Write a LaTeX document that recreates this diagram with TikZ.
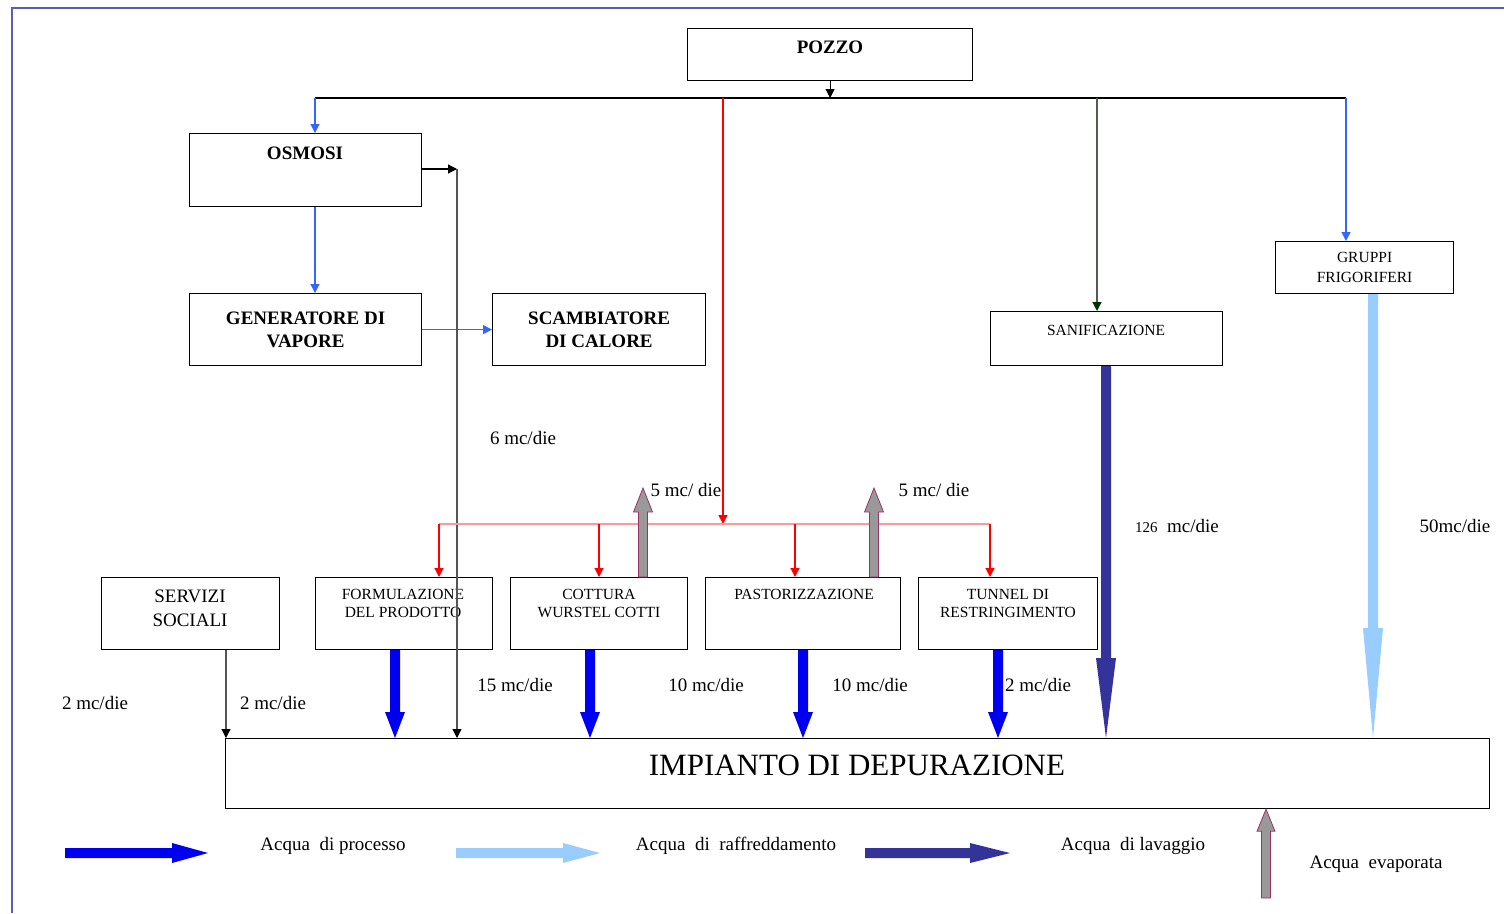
\documentclass[tikz,border=0pt]{standalone}
\usepackage{fontspec}
\setmainfont{Liberation Serif}
\usetikzlibrary{arrows.meta,calc}
\definecolor{framec}{HTML}{5B5BB8}
\definecolor{procblue}{HTML}{0000F0}
\definecolor{coolblue}{HTML}{99CCFF}
\definecolor{washblue}{HTML}{333399}
\definecolor{evapgray}{HTML}{999999}
\definecolor{evapedge}{HTML}{993366}
\definecolor{feedblue}{HTML}{3366FF}
\definecolor{pinkline}{HTML}{FF9999}
\definecolor{redline}{HTML}{FF0000}
\definecolor{sanline}{HTML}{4F5F4F}
\definecolor{sanhead}{HTML}{003300}
\definecolor{greyline}{HTML}{555555}
\newcommand{\fatv}[6]{\path[#1] ($(#2)+(-#6,0)$) -- ($(#3)+(-#6,{-(#4)})$) -- ($(#3)+(-#5,{-(#4)})$) -- (#3) -- ($(#3)+(#5,{-(#4)})$) -- ($(#3)+(#6,{-(#4)})$) -- ($(#2)+(#6,0)$) -- cycle;}
\newcommand{\fath}[6]{\path[#1] ($(#2)+(0,-#6)$) -- ($(#3)+({-(#4)},-#6)$) -- ($(#3)+({-(#4)},-#5)$) -- (#3) -- ($(#3)+({-(#4)},#5)$) -- ($(#3)+({-(#4)},#6)$) -- ($(#2)+(0,#6)$) -- cycle;}
\begin{document}
\begin{tikzpicture}[x=1pt,y=-1pt,
  box/.style={draw, line width=1.2pt, rectangle, inner sep=0pt, anchor=north west},
  bl/.style={font=\bfseries\fontsize{19}{23}\selectfont, align=center, inner sep=0pt},
  sm/.style={font=\fontsize{15.5}{18}\selectfont, align=center, inner sep=0pt},
  lbl/.style={font=\fontsize{19}{23}\selectfont, align=center, inner sep=0pt},
  thinarrow/.style={-{Triangle[width=9pt,length=9pt]}},
  fatproc/.style={fill=procblue},
  fatcool/.style={fill=coolblue},
  fatwash/.style={fill=washblue},
  fatevap/.style={fill=evapgray, draw=evapedge, line width=0.8pt}]
\useasboundingbox (0,0) rectangle (1504,913);
\fill[white] (0,0) rectangle (1504,913);
\draw[framec, line width=2pt] (12,913) -- (12,8) -- (1504,8);

% boxes
\node[box, minimum width=285, minimum height=52] (pozzo) at (687,28) {};
\node[box, minimum width=232, minimum height=73] (osmosi) at (189,133) {};
\node[box, minimum width=232, minimum height=72, bl] (gen) at (189,293) {GENERATORE DI\\VAPORE};
\node[box, minimum width=213, minimum height=72, bl] (scamb) at (492,293) {SCAMBIATORE\\DI CALORE};
\node[box, minimum width=232, minimum height=54] (sanif) at (990,311) {};
\node[box, minimum width=178, minimum height=52, sm, font=\fontsize{15.5}{20}\selectfont] (gruppi) at (1275,241) {GRUPPI\\FRIGORIFERI};
\node[box, minimum width=178, minimum height=72] (serv) at (101,577) {};
\node[box, minimum width=177, minimum height=72] (form) at (315,577) {};
\node[box, minimum width=177, minimum height=72] (cott) at (510,577) {};
\node[box, minimum width=195, minimum height=72] (past) at (705,577) {};
\node[box, minimum width=179, minimum height=72] (tunn) at (918,577) {};
\node[box, minimum width=1264, minimum height=70] (dep) at (225,738) {};

% box texts
\node[bl] (tpozzo) at (830,47) {POZZO};
\node[bl] (tosmosi) at (305,153) {OSMOSI};
\node[sm] (tsanif) at (1106,330) {SANIFICAZIONE};
\node[lbl, font=\fontsize{19}{24}\selectfont] (tserv) at (190,608) {SERVIZI\\SOCIALI};
\node[sm] (tform) at (403,603) {FORMULAZIONE\\DEL PRODOTTO};
\node[sm] (tcott) at (599,603) {COTTURA\\WURSTEL COTTI};
\node[sm] (tpast) at (804,594) {PASTORIZZAZIONE};
\node[sm] (ttunn) at (1008,603) {TUNNEL DI\\RESTRINGIMENTO};
\node[font=\fontsize{31}{36}\selectfont, inner sep=0pt] (tdep) at (857,765) {IMPIANTO DI DEPURAZIONE};

% feed network
\coordinate (bL) at (315,98);
\coordinate (bR) at (1346,98);
\coordinate (bS) at (1097,98);
\coordinate (rtop) at (723,98);
\coordinate (rj) at (723,524);
\coordinate (pL) at (439,524);
\coordinate (pC) at (599,524);
\coordinate (pP) at (795,524);
\coordinate (pR) at (990,524);
\coordinate (vtop) at (457,169);
\coordinate (servx) at (226,0);

\draw[line width=1.2pt] (bL) -- (bR);
\draw[line width=1pt, thinarrow] (pozzo.south) -- (pozzo.south |- bL);
\draw[feedblue, line width=1.2pt, thinarrow] (bL) -- (bL |- osmosi.north);
\draw[feedblue, line width=1.2pt, thinarrow] (bL |- osmosi.south) -- (bL |- gen.north);
\draw[feedblue, line width=1.2pt, thinarrow] (gen.east) -- (scamb.west);
\draw[line width=1.2pt, thinarrow] (osmosi.east |- vtop) -- (vtop);
\draw[greyline, line width=1.2pt, -{Triangle[width=9pt,length=9pt,color=black]}] (vtop) -- (vtop |- dep.north);
\draw[redline, line width=1.4pt, thinarrow] (rtop) -- (rj);
\draw[pinkline, line width=1.3pt] (pL) -- (pR);
\draw[redline, line width=1.2pt, thinarrow] (pL) -- (pL |- form.north);
\draw[redline, line width=1.2pt, thinarrow] (pC) -- (pC |- cott.north);
\draw[redline, line width=1.2pt, thinarrow] (pP) -- (pP |- past.north);
\draw[redline, line width=1.2pt, thinarrow] (pR) -- (pR |- tunn.north);
\draw[sanline, line width=1.2pt, -{Triangle[width=9pt,length=9pt,color=sanhead]}] (bS) -- (bS |- sanif.north);
\draw[feedblue, line width=1.2pt, thinarrow] (bR) -- (bR |- gruppi.north);
\draw[greyline, line width=1.2pt, -{Triangle[width=9pt,length=9pt,color=black]}] (servx |- serv.south) -- (servx |- dep.north);

% fat arrows to depuration
\coordinate (f1s) at (395,0 |- form.south);   \coordinate (f1e) at (395,0 |- dep.north);
\coordinate (f2s) at (590,0 |- cott.south);   \coordinate (f2e) at (590,0 |- dep.north);
\coordinate (f3s) at (803,0 |- past.south);   \coordinate (f3e) at (803,0 |- dep.north);
\coordinate (f4s) at (998,0 |- tunn.south);   \coordinate (f4e) at (998,0 |- dep.north);
\coordinate (f5s) at (1106,0 |- sanif.south); \coordinate (f5e) at (1106,0 |- dep.north);
\coordinate (f6s) at (1373,0 |- gruppi.south); \coordinate (f6e) at (1373,0 |- dep.north);
\fatv{fatproc}{f1s}{f1e}{26}{10}{5}
\fatv{fatproc}{f2s}{f2e}{26}{10}{5}
\fatv{fatproc}{f3s}{f3e}{26}{10}{5}
\fatv{fatproc}{f4s}{f4e}{26}{10}{5}
\fatv{fatwash}{f5s}{f5e}{80}{10}{5}
\fatv{fatcool}{f6s}{f6e}{110}{10}{5}

% evaporation arrows
\coordinate (g1s) at (643,0 |- cott.north); \coordinate (g1e) at (643,488);
\coordinate (g2s) at (874,0 |- past.north); \coordinate (g2e) at (874,488);
\fatv{fatevap}{g1s}{g1e}{-24}{9.5}{4.5}
\fatv{fatevap}{g2s}{g2e}{-24}{9.5}{4.5}

% flow labels
\node[lbl] (l6) at (523,438) {6 mc/die};
\node[lbl] (l5a) at (686,490) {5 mc/ die};
\node[lbl] (l5b) at (934,490) {5 mc/ die};
\node[lbl] (l126) at (1177,526) {{\fontsize{15}{18}\selectfont 126}\ \ mc/die};
\node[lbl] (l50) at (1455,526) {50mc/die};
\node[lbl] (l15) at (515,685) {15 mc/die};
\node[lbl] (l10a) at (706,685) {10 mc/die};
\node[lbl] (l10b) at (870,685) {10 mc/die};
\node[lbl] (l2a) at (1038,685) {2 mc/die};
\node[lbl] (l2b) at (95,703) {2 mc/die};
\node[lbl] (l2c) at (273,703) {2 mc/die};

% legend
\coordinate (k1s) at (65,853);  \coordinate (k1e) at (208,853);
\coordinate (k2s) at (456,853); \coordinate (k2e) at (600,853);
\coordinate (k3s) at (865,853); \coordinate (k3e) at (1010,853);
\coordinate (k4s) at (1266,898); \coordinate (k4e) at (1266,0 |- dep.south);
\fath{fatproc}{k1s}{k1e}{36}{10}{5}
\fath{fatcool}{k2s}{k2e}{37}{10}{5}
\fath{fatwash}{k3s}{k3e}{40}{10}{5}
\fatv{fatevap}{k4s}{k4e}{-22}{9}{4.5}
\node[lbl] (t1) at (333,846) {Acqua\ \ di processo};
\node[lbl] (t2) at (736,846) {Acqua\ \ di\ \ raffreddamento};
\node[lbl] (t3) at (1133,846) {Acqua\ \ di lavaggio};
\node[lbl] (t4) at (1376,864) {Acqua\ \ evaporata};
\end{tikzpicture}
\end{document}
